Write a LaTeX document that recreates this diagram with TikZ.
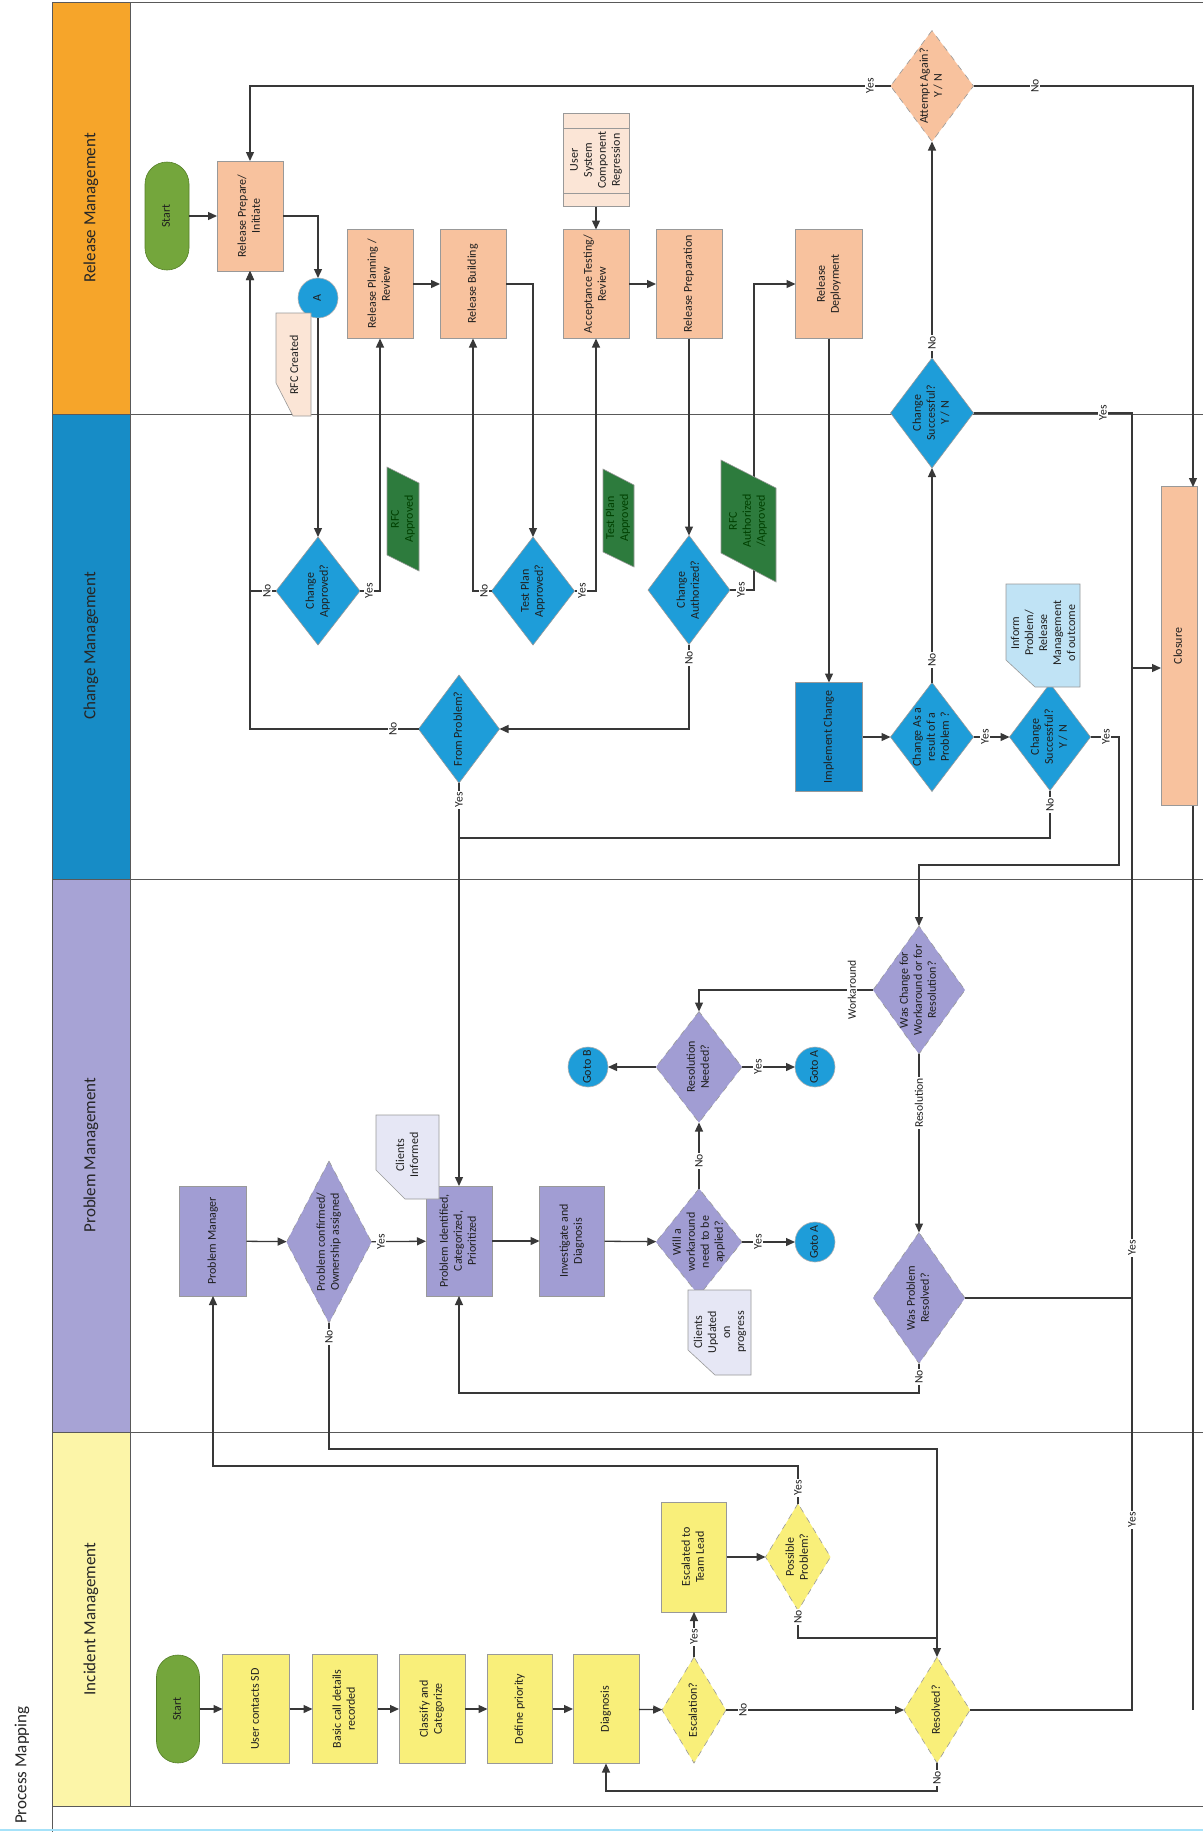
\documentclass[tikz,border=0pt]{standalone}
\usepackage{fontspec}
\setmainfont{Carlito}
\usetikzlibrary{shapes.geometric,arrows.meta}
\definecolor{peach}{HTML}{F8C29E}
\definecolor{peachL}{HTML}{FBE5D6}
\definecolor{grn}{HTML}{74A63C}
\definecolor{grnD}{HTML}{557F28}
\definecolor{blu}{HTML}{1E9DD9}
\definecolor{bluD}{HTML}{188DCC}
\definecolor{dgrn}{HTML}{2D7B3D}
\definecolor{lav}{HTML}{A19DD3}
\definecolor{lavL}{HTML}{E6E7F5}
\definecolor{yel}{HTML}{F9EF7A}
\definecolor{lblue}{HTML}{C0E3F5}
\definecolor{hRel}{HTML}{F6A52A}
\definecolor{hChg}{HTML}{178CC6}
\definecolor{hPrb}{HTML}{A7A3D5}
\definecolor{hInc}{HTML}{FCF5A8}
\definecolor{lnc}{HTML}{383838}
\newcommand\zt[1]{\makebox[0pt]{\raisebox{-0.25em}[0pt][0pt]{\begin{tabular}{@{}c@{}}#1\end{tabular}}}}
\begin{document}
\begin{tikzpicture}[x=0.5pt,y=-0.5pt,
  nb/.style={rotate=90, inner sep=0pt, outer sep=0pt, font=\fontsize{6}{7}\selectfont, text=black!88},
  sz/.style 2 args={minimum width={(#2)*0.5pt}, minimum height={(#1)*0.5pt}},
  pbox/.style={nb, rectangle, draw=black!40, line width=0.3pt},
  dia/.style={nb, diamond, draw=black!40, line width=0.3pt},
  circ/.style={nb, circle, fill=blu, draw=black!30, line width=0.3pt, minimum size=20pt},
  lbl/.style={rotate=90, fill=white, inner sep=0.7pt, font=\fontsize{5.8}{6.5}\selectfont, text=black!88},
  txt/.style={rotate=90, inner sep=0pt, font=\fontsize{6}{7}\selectfont, text=black!88, align=center},
  ln/.style={draw=lnc, line width=0.65pt},
  arr/.style={ln, -{Triangle[length=4.5pt,width=4pt]}},
  lane/.style={draw=black!65, line width=0.5pt},
  hdr/.style={rotate=90, font=\fontsize{8.5}{10}\selectfont, text=black!85},
  shp/.style={draw=black!40, line width=0.3pt}
]
\useasboundingbox (0,0) rectangle (1203,1832);
\fill[white] (0,0) rectangle (1203,1832);
% ---------- headers
\fill[hRel] (52,2) rectangle (130,414);
\fill[hChg] (52,414) rectangle (130,879);
\fill[hPrb] (52,879) rectangle (130,1432);
\fill[hInc] (52,1432) rectangle (130,1806);
\draw[lane] (52,2) -- (1203,2);
\draw[lane] (52,414) -- (1203,414);
\draw[lane] (52,879) -- (1203,879);
\draw[lane] (52,1432) -- (1203,1432);
\draw[lane] (52,1806) -- (1203,1806);
\draw[lane] (52,2) -- (52,1832);
\draw[lane] (130,2) -- (130,1806);
\draw[draw=cyan!35, line width=0.8pt] (0,1830) -- (1203,1830);
\node[hdr] (hRelT) at (91,208) {Release Management};
\node[hdr] (hChgT) at (91,646) {Change Management};
\node[hdr] (hPrbT) at (91,1155) {Problem Management};
\node[hdr] (hIncT) at (91,1619) {Incident Management};
\node[hdr] (title) at (22,1765) {Process Mapping};
% ---------- release lane
\node[pbox, fill=grn, draw=grnD, rounded corners=11pt, sz={44}{108}] (rstart) at (167,216) {\zt{Start}};
\node[pbox, fill=peach, sz={66}{110}] (rpi) at (250,216) {\zt{Release Prepare/\\Initiate}};
\node[circ] (rA) at (318,298) {\zt{A}};
\node[pbox, fill=peach, sz={66}{109}] (rpr) at (380,284) {\zt{Release Planning /\\Review}};
\node[pbox, fill=peach, sz={66}{109}] (rb) at (473,284) {\zt{Release Building}};
\node[pbox, fill=peachL, sz={66}{93}] (usc) at (596,160) {\zt{User\\System\\Component\\Regression}};
\draw[shp] (563,128) -- (629,128);
\draw[shp] (563,193) -- (629,193);
\node[pbox, fill=peach, sz={66}{109}] (atr) at (596,284) {\zt{Acceptance Testing/\\Review}};
\node[pbox, fill=peach, sz={66}{109}] (rprep) at (689,284) {\zt{Release Preparation}};
\node[pbox, fill=peach, sz={67}{109}] (rd) at (829,284) {\zt{Release\\Deployment}};
\node[dia, fill=peach, dashed, sz={83}{111}] (aa) at (932,86) {\zt{Attempt Again?\\Y / N}};
\node[dia, fill=blu, sz={83}{110}] (cs1) at (932,413) {\zt{Change\\Successful?\\Y / N}};
% ---------- change lane
\node[dia, fill=blu, sz={84}{108}] (ca) at (318,591) {\zt{Change\\Approved?}};
\node[dia, fill=blu, sz={83}{108}] (tpa) at (533,591) {\zt{Test Plan\\Approved?}};
\node[dia, fill=blu, sz={82}{109}] (cau) at (689,590) {\zt{Change\\Authorized?}};
\node[dia, fill=blu, sz={81}{108}] (fp) at (459,729) {\zt{From Problem?}};
\node[pbox, fill=bluD, sz={67}{109}] (ic) at (829,737) {\zt{Implement Change}};
\node[dia, fill=blu, sz={83}{109}] (car) at (932,737) {\zt{Change As a\\result of a\\Problem ?}};
\node[dia, fill=blu, sz={81}{107}] (cs2) at (1050,737) {\zt{Change\\Successful?\\Y / N}};
\node[pbox, fill=peach, sz={36}{319}] (closure) at (1179,646) {\zt{Closure}};
% ---------- problem lane
\node[pbox, fill=lav, sz={67}{110}] (pm) at (213,1241) {\zt{Problem Manager}};
\node[dia, fill=lav, dashed, sz={85}{162}] (pc) at (329,1242) {\zt{Problem confirmed/\\Ownership assigned}};
\node[pbox, fill=lav, sz={66}{110}] (pic) at (459,1241) {\zt{Problem Identified,\\Categorized,\\Prioritized}};
\node[pbox, fill=lav, sz={65}{110}] (id) at (572,1241) {\zt{Investigate and\\Diagnosis}};
\node[circ] (gB) at (588,1067) {\zt{Goto B}};
\node[dia, fill=lav, dashed, sz={86}{107}] (ww) at (699,1242) {\zt{Will a\\workaround\\need to be\\applied?}};
\node[circ] (gA2) at (815,1242) {\zt{Goto A}};
\node[dia, fill=lav, dashed, sz={86}{111}] (rn) at (699,1067) {\zt{Resolution\\Needed?}};
\node[circ] (gA1) at (815,1067) {\zt{Goto A}};
\node[dia, fill=lav, dashed, sz={92}{128}] (wc) at (919,990) {\zt{Was Change for\\Workaround or for\\Resolution?}};
\node[dia, fill=lav, dashed, sz={92}{131}] (wpr) at (919,1298) {\zt{Was Problem\\Resolved?}};
% ---------- incident lane
\node[pbox, fill=grn, draw=grnD, rounded corners=10.75pt, sz={43}{108}] (istart) at (178,1709) {\zt{Start}};
\node[pbox, fill=yel, sz={67}{109}] (ucs) at (256,1709) {\zt{User contacts SD}};
\node[pbox, fill=yel, sz={65}{109}] (bcd) at (345,1709) {\zt{Basic call details\\recorded}};
\node[pbox, fill=yel, sz={66}{109}] (cc) at (432,1709) {\zt{Classify and\\Categorize}};
\node[pbox, fill=yel, sz={65}{109}] (dp) at (520,1709) {\zt{Define priority}};
\node[pbox, fill=yel, sz={66}{109}] (dg) at (606,1709) {\zt{Diagnosis}};
\node[dia, fill=yel, dashed, sz={64}{106}] (esc) at (694,1710) {\zt{Escalation?}};
\node[pbox, fill=yel, sz={65}{110}] (etl) at (694,1557) {\zt{Escalated to\\Team Lead}};
\node[dia, fill=yel, dashed, sz={65}{107}] (pp) at (798,1557) {\zt{Possible\\Problem?}};
\node[dia, fill=yel, dashed, sz={66}{106}] (res) at (937,1710) {\zt{Resolved?}};
% ---------- helper coordinates
\coordinate (yc) at (1132,668);
\coordinate (clIn) at (1193,487);
\coordinate (clOut) at (1193,806);
\coordinate (clEnd) at (1193,1710);
% ---------- connectors: release / change
\draw[arr] (rstart) -- (rpi);
\draw[arr] (aa) -| (rpi);
\draw[arr] (rpi) -| (rA);
\draw[arr] (rA) -- (ca);
\draw[arr] (ca) -| (rpi);
\draw[arr] (fp) -| (rpi);
\draw[arr] (ca) -| (rpr);
\draw[arr] (rpr) -- (rb);
\draw[arr] (rb) -| (tpa);
\draw[arr] (tpa) -| (rb);
\draw[arr] (tpa) -| (atr);
\draw[arr] (usc) -- (atr);
\draw[arr] (atr) -- (rprep);
\draw[arr] (rprep) -- (cau);
\draw[arr] (cau) -| (754,284) -- (rd);
\draw[arr] (cau) |- (fp);
\draw[arr] (rd) -- (ic);
\draw[arr] (ic) -- (car);
\draw[arr] (car) -- (cs1);
\draw[arr] (cs1) -- (aa);
\draw[arr] (aa) -| (clIn);
\draw[ln] (cs1) -| (yc);
\draw[arr] (car) -- (cs2);
\draw[ln] (cs2) |- (459,838);
\draw[arr] (fp) -- (pic);
\draw[arr] (cs2) -| (1119,865) -| (wc);
\draw[ln] (clOut) -- (clEnd);
% ---------- connectors: problem
\draw[arr] (pm) -- (pc);
\draw[arr] (pc) -- (pic);
\draw[arr] (pic) -- (id);
\draw[arr] (id) -- (ww);
\draw[arr] (ww) -- (gA2);
\draw[arr] (ww) -- (rn);
\draw[arr] (rn) -- (gA1);
\draw[arr] (rn) -- (gB);
\draw[arr] (wc) -| (rn);
\draw[arr] (wc) -- (wpr);
\draw[ln] (wpr) -- (1132,1298);
\draw[arr] (wpr) |- (459,1393) -- (pic);
% ---------- connectors: incident
\draw[arr] (istart) -- (ucs);
\draw[arr] (ucs) -- (bcd);
\draw[arr] (bcd) -- (cc);
\draw[arr] (cc) -- (dp);
\draw[arr] (dp) -- (dg);
\draw[arr] (dg) -- (esc);
\draw[arr] (esc) -- (etl);
\draw[arr] (etl) -- (pp);
\draw[arr] (pp) |- (213,1466) -- (pm);
\draw[arr] (pc) |- (937,1449) -- (res);
\draw[ln] (pp) |- (937,1638);
\draw[arr] (esc) -- (res);
\draw[arr] (res) |- (606,1791) -- (dg);
\draw[arr] (res) -| (yc) -- (yc -| closure.north);
% ---------- labels
\node[lbl] (l1) at (870,86) {Yes};
\node[lbl] (l2) at (1035,86) {No};
\node[lbl] (l3) at (932,343) {No};
\node[lbl] (l4) at (1103,413) {Yes};
\node[lbl] (l5) at (267,591) {No};
\node[lbl] (l6) at (369,591) {Yes};
\node[lbl] (l7) at (484,591) {No};
\node[lbl] (l8) at (582,591) {Yes};
\node[lbl] (l9) at (741,590) {Yes};
\node[lbl] (l10) at (689,658) {No};
\node[lbl] (l11) at (393,729) {No};
\node[lbl] (l12) at (459,800) {Yes};
\node[lbl] (l13) at (932,660) {No};
\node[lbl] (l14) at (985,737) {Yes};
\node[lbl] (l15) at (1050,805) {No};
\node[lbl] (l16) at (1106,737) {Yes};
\node[lbl] (l17) at (381,1242) {Yes};
\node[lbl] (l18) at (329,1337) {No};
\node[lbl] (l19) at (758,1242) {Yes};
\node[lbl] (l20) at (699,1161) {No};
\node[lbl] (l21) at (758,1067) {Yes};
\node[lbl] (l22) at (852,990) {Workaround};
\node[lbl] (l23) at (919,1103) {Resolution};
\node[lbl] (l24) at (919,1377) {No};
\node[lbl] (l25) at (1132,1248) {Yes};
\node[lbl] (l26) at (694,1637) {Yes};
\node[lbl] (l27) at (743,1710) {No};
\node[lbl] (l28) at (798,1488) {Yes};
\node[lbl] (l29) at (798,1617) {No};
\node[lbl] (l30) at (937,1778) {No};
\node[lbl] (l31) at (1132,1520) {Yes};
% ---------- cards and data shapes
\filldraw[shp, fill=peachL] (276,313) -- (311,313) -- (311,416) -- (293,416) -- (276,383) -- cycle;
\node[txt] (rfcc) at (294,365) {RFC Created};
\filldraw[shp, fill=lavL] (376,1115) -- (439,1115) -- (439,1199) -- (405,1199) -- (376,1170) -- cycle;
\node[txt] (cinf) at (407,1155) {Clients\\Informed};
\filldraw[shp, fill=lblue] (1006,584) -- (1080,584) -- (1080,687) -- (1035,687) -- (1006,660) -- cycle;
\node[txt] (inform) at (1043,633) {Inform\\Problem/\\Release\\Management\\of outcome};
\filldraw[shp, fill=lavL] (688,1290) -- (751,1290) -- (751,1375) -- (715,1375) -- (688,1350) -- cycle;
\node[txt] (cupd) at (720,1332) {Clients\\Updated\\on\\progress};
\filldraw[shp, fill=dgrn] (387,467) -- (419,483) -- (419,571) -- (387,555) -- cycle;
\node[txt, text=green!25!black] (rfca) at (403,519) {RFC\\Approved};
\filldraw[shp, fill=dgrn] (603,469) -- (634,485) -- (634,567) -- (603,552) -- cycle;
\node[txt, text=green!25!black] (tpap) at (618,518) {Test Plan\\Approved};
\filldraw[shp, fill=dgrn] (721,460) -- (776,488) -- (776,582) -- (721,553) -- cycle;
\node[txt, text=green!25!black] (rfcau) at (748,521) {RFC\\Authorized\\/Approved};
\end{tikzpicture}
\end{document}
